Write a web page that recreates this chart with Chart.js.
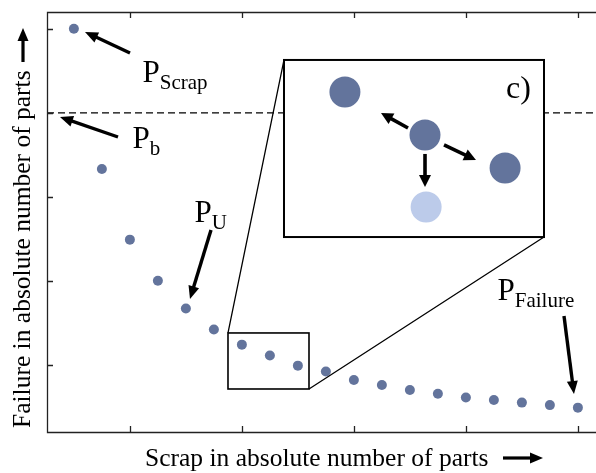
<!DOCTYPE html>
<html>
<head>
<meta charset="utf-8">
<script src="https://cdn.jsdelivr.net/npm/chart.js@4.4.1/dist/chart.umd.min.js"></script>
<style>
  html, body { margin: 0; padding: 0; background: #fff; }
</style>
</head>
<body>
<canvas id="chart" width="596" height="473"></canvas>
<script>
// data (x = step, y = failures in tick units)
const xValues = [1, 2, 3, 4, 5, 6, 7, 8, 9, 10, 11, 12, 13, 14, 15, 16, 17, 18, 19];
const yValues = [5.0, 3.33, 2.49, 2.0, 1.67, 1.42, 1.24, 1.11, 0.99, 0.92, 0.82, 0.76, 0.70, 0.655, 0.61, 0.58, 0.55, 0.52, 0.49];
const xTicks = [3, 7, 11, 15, 19];
const yTicks = [1, 2, 3, 4, 5];
const baselineValue = 4;

// zoomed detail (c)
const insetX = [10.68, 13.54, 16.40, 13.58];
const insetY = [4.248, 3.736, 3.343, 2.879];
const insetColors = ['#63749c', '#63749c', '#63749c', '#bccbea'];

const DOT = '#63749c';
const FONT = '"Liberation Serif", "Times New Roman", serif';

const X_MIN = 0.04, X_MAX = 19.647;
const Y_MIN = 0.2, Y_MAX = 5.2;

// labels and arrows, in data units
const labels = [
  { main: 'P', sub: 'Scrap', x: 3.45, y: 4.367 },
  { main: 'P', sub: 'b', x: 3.094, y: 3.581 },
  { main: 'P', sub: 'U', x: 5.308, y: 2.70 },
  { main: 'P', sub: 'Failure', x: 16.129, y: 1.771 }
];
const arrows = [
  [3.004, 4.712, 1.397, 4.962],
  [2.576, 3.712, 0.504, 3.95],
  [5.897, 2.605, 5.147, 1.783],
  [18.504, 1.581, 18.861, 0.652]
];
const insetArrows = [
  [12.933, 3.819, 11.969, 3.998],
  [14.219, 3.617, 15.361, 3.438],
  [13.54, 3.51, 13.54, 3.117]
];
const zoomBox = { x1: 6.504, x2: 9.397, y1: 1.379, y2: 0.712 };
const insetBox = { x1: 8.504, x2: 17.79, y1: 4.629, y2: 2.521 };

function drawArrow(ctx, x1, y1, x2, y2, lw, headLen, headW) {
  const ang = Math.atan2(y2 - y1, x2 - x1);
  const bx = x2 - Math.cos(ang) * headLen;
  const by = y2 - Math.sin(ang) * headLen;
  ctx.save();
  ctx.strokeStyle = '#000';
  ctx.fillStyle = '#000';
  ctx.lineWidth = lw;
  ctx.lineCap = 'butt';
  ctx.beginPath();
  ctx.moveTo(x1, y1);
  ctx.lineTo(bx + Math.cos(ang) * 1, by + Math.sin(ang) * 1);
  ctx.stroke();
  ctx.beginPath();
  ctx.moveTo(x2, y2);
  ctx.lineTo(bx + Math.cos(ang + Math.PI / 2) * headW / 2, by + Math.sin(ang + Math.PI / 2) * headW / 2);
  ctx.lineTo(bx - Math.cos(ang + Math.PI / 2) * headW / 2, by - Math.sin(ang + Math.PI / 2) * headW / 2);
  ctx.closePath();
  ctx.fill();
  ctx.restore();
}

const decorations = {
  id: 'decorations',
  beforeDatasetDraw(chart, args) {
    if (args.index !== 2) return;
    const ctx = chart.ctx;
    const sx = v => chart.scales.x.getPixelForValue(v);
    const sy = v => chart.scales.y.getPixelForValue(v);
    const zx1 = sx(zoomBox.x1), zx2 = sx(zoomBox.x2), zy1 = sy(zoomBox.y1), zy2 = sy(zoomBox.y2);
    const ix1 = sx(insetBox.x1), ix2 = sx(insetBox.x2), iy1 = sy(insetBox.y1), iy2 = sy(insetBox.y2);
    ctx.save();
    ctx.strokeStyle = '#000';
    // connector lines
    ctx.lineWidth = 1.3;
    ctx.beginPath();
    ctx.moveTo(zx1, zy1); ctx.lineTo(ix1, iy1);
    ctx.moveTo(zx2, zy2); ctx.lineTo(ix2, iy2);
    ctx.stroke();
    // small box
    ctx.lineWidth = 1.6;
    ctx.strokeRect(zx1, zy1, zx2 - zx1, zy2 - zy1);
    // inset
    ctx.fillStyle = '#fff';
    ctx.fillRect(ix1, iy1, ix2 - ix1, iy2 - iy1);
    ctx.lineWidth = 2;
    ctx.strokeRect(ix1, iy1, ix2 - ix1, iy2 - iy1);
    ctx.restore();
  },
  afterDraw(chart) {
    const ctx = chart.ctx;
    const area = chart.chartArea;
    const sx = v => chart.scales.x.getPixelForValue(v);
    const sy = v => chart.scales.y.getPixelForValue(v);

    // frame: left, top, bottom
    ctx.save();
    ctx.strokeStyle = '#222';
    ctx.lineWidth = 1.3;
    ctx.beginPath();
    ctx.moveTo(area.right + 2, area.top + 0.5);
    ctx.lineTo(area.left + 0.5, area.top + 0.5);
    ctx.lineTo(area.left + 0.5, area.bottom + 0.5);
    ctx.lineTo(area.right + 2, area.bottom + 0.5);
    ctx.stroke();
    ctx.beginPath();
    for (const t of xTicks) {
      const px = Math.round(sx(t)) + 0.5;
      ctx.moveTo(px, area.top); ctx.lineTo(px, area.top + 6);
      ctx.moveTo(px, area.bottom); ctx.lineTo(px, area.bottom - 6);
    }
    for (const t of yTicks) {
      const py = Math.round(sy(t)) + 0.5;
      ctx.moveTo(area.left, py); ctx.lineTo(area.left + 6, py);
    }
    ctx.stroke();
    ctx.restore();

    // inset arrows and label
    for (const a of insetArrows) drawArrow(ctx, sx(a[0]), sy(a[1]), sx(a[2]), sy(a[3]), 3.6, 12, 12);
    ctx.save();
    ctx.fillStyle = '#000';
    ctx.font = '32px ' + FONT;
    ctx.textBaseline = 'alphabetic';
    ctx.fillText('c)', sx(16.433), sy(4.176));
    ctx.restore();

    // P labels
    ctx.save();
    ctx.fillStyle = '#000';
    ctx.textBaseline = 'alphabetic';
    for (const l of labels) {
      const px = sx(l.x), py = sy(l.y);
      ctx.font = '31px ' + FONT;
      ctx.fillText(l.main, px, py);
      const w = ctx.measureText(l.main).width;
      ctx.font = '21px ' + FONT;
      ctx.fillText(l.sub, px + w, py + 7);
    }
    ctx.restore();
    for (const a of arrows) drawArrow(ctx, sx(a[0]), sy(a[1]), sx(a[2]), sy(a[3]), 3.4, 13, 11);

    // axis titles
    ctx.save();
    ctx.fillStyle = '#000';
    ctx.font = '25.5px ' + FONT;
    ctx.textBaseline = 'alphabetic';
    ctx.fillText('Scrap in absolute number of parts', 145, 466);
    ctx.translate(30, 428);
    ctx.rotate(-Math.PI / 2);
    ctx.fillText('Failure in absolute number of parts', 0, 0);
    ctx.restore();
    drawArrow(ctx, 503, 458, 543, 458, 3.2, 13, 11);
    drawArrow(ctx, 23, 62, 23, 28, 3.2, 13, 11);
  }
};

new Chart(document.getElementById('chart'), {
  type: 'scatter',
  data: {
    datasets: [
      {
        label: 'points',
        data: xValues.map((x, i) => ({ x, y: yValues[i] })),
        backgroundColor: DOT,
        borderWidth: 0,
        pointRadius: 5,
        order: 2
      },
      {
        label: 'Pb',
        type: 'line',
        data: [{ x: X_MIN, y: baselineValue }, { x: X_MAX, y: baselineValue }],
        borderColor: '#000',
        borderWidth: 1.3,
        borderDash: [7, 4],
        pointRadius: 0,
        order: 3
      },
      {
        label: 'inset',
        data: insetX.map((x, i) => ({ x, y: insetY[i] })),
        backgroundColor: insetColors,
        borderWidth: 0,
        pointRadius: 15.5,
        order: 1
      }
    ]
  },
  options: {
    responsive: false,
    animation: false,
    layout: { autoPadding: false, padding: { left: 47, top: 12, right: 0, bottom: 41 } },
    plugins: { legend: { display: false }, tooltip: { enabled: false } },
    scales: {
      x: { type: 'linear', min: X_MIN, max: X_MAX, display: false },
      y: { type: 'linear', min: Y_MIN, max: Y_MAX, display: false }
    }
  },
  plugins: [decorations]
});
</script>
</body>
</html>
